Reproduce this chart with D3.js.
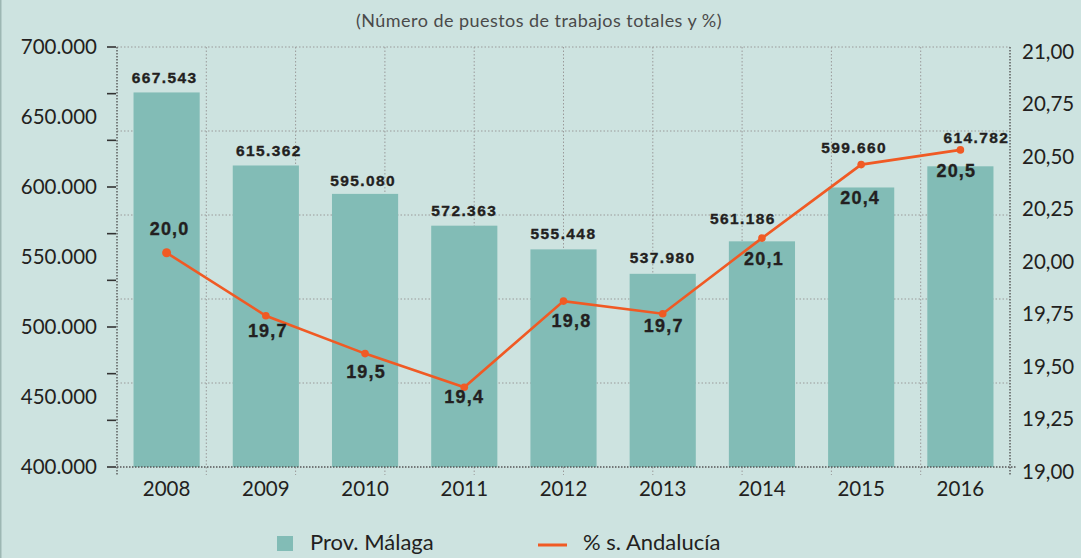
<!DOCTYPE html>
<html>
<head>
<meta charset="utf-8">
<script src="https://cdn.jsdelivr.net/npm/d3@7"></script>
<style>
  html, body { margin: 0; padding: 0; background: #cde3e0; }
  svg { display: block; }
</style>
</head>
<body>
<div id="main"></div>
<script>
// datos
const years = ["2008", "2009", "2010", "2011", "2012", "2013", "2014", "2015", "2016"];
const empleoMalaga = [667543, 615362, 595080, 572363, 555448, 537980, 561186, 599660, 614782];
const pctAndalucia = [20.02, 19.72, 19.54, 19.38, 19.79, 19.73, 20.09, 20.44, 20.51];
const leftTicks = [400000, 450000, 500000, 550000, 600000, 650000, 700000];
const rightTicks = [19, 19.25, 19.5, 19.75, 20, 20.25, 20.5, 20.75, 21];

// ajustes de posición de etiquetas (px)
const barLabelDx = [-2, 3, -2, 0, 0, 0, -19, -7, 16];
const barLabelDy = [-15, -15, -13, -15, -16, -16, -23, -40, -29];
const pctLabelDx = [3, 2, 1, 0, 8, 1, 2, -1, -4];
const pctLabelDy = [-24, 15, 18, 9, 20, 12, 21, 33, 21];

const W = 1081, H = 558;
const plot = { left: 117, right: 1010, top: 47, bottom: 467 };
const BAR = "#82bcb6", LINE = "#f05a24", TXT = "#231f20";
const FONT = "Lato, 'Open Sans', sans-serif";
const BOLD = "'Liberation Sans', Arial, sans-serif";

const es = d3.formatLocale({ decimal: ",", thousands: ".", grouping: [3], currency: ["", "€"] });
const fmtMiles = es.format(",.0f");
const fmt2 = es.format(".2f");
const fmt1 = es.format(".1f");

const svg = d3.select("#main").append("svg")
    .attr("width", W)
    .attr("height", H);

svg.append("rect").attr("width", W).attr("height", H).attr("fill", "#cde3e0");
svg.append("line").attr("x1", 0.5).attr("x2", 0.5).attr("y1", 0).attr("y2", H)
    .attr("stroke", "#9db7b3").attr("stroke-width", 2);

const x = d3.scaleBand()
    .domain(years)
    .range([plot.left, plot.right])
    .paddingInner(1 / 3)
    .paddingOuter(1 / 6);

const yL = d3.scaleLinear().domain([400000, 700000]).range([plot.bottom, plot.top]);
const yR = d3.scaleLinear().domain([19, 21]).range([plot.bottom, plot.top]);

// título
svg.append("text")
    .attr("x", 539)
    .attr("y", 27)
    .attr("text-anchor", "middle")
    .style("font-family", FONT)
    .style("font-size", "18px")
    .style("letter-spacing", "0.45px")
    .style("fill", "#4a4a4a")
    .text("(Número de puestos de trabajos totales y %)");

// rejilla punteada
const gridX = d3.scaleLinear().domain([0, 10]).range([plot.left, plot.right]);
const gridY = d3.scaleLinear().domain([0, 5]).range([plot.bottom, plot.top]);
const grid = svg.append("g")
    .attr("stroke", "#9a9a9a")
    .attr("stroke-width", 1)
    .attr("stroke-dasharray", "1.5,2");
grid.selectAll(".h")
    .data(d3.range(1, 6))
    .join("line")
    .attr("x1", plot.left).attr("x2", plot.right)
    .attr("y1", d => gridY(d))
    .attr("y2", d => gridY(d));
grid.selectAll(".v")
    .data(d3.range(1, 10))
    .join("line")
    .attr("x1", d => gridX(d)).attr("x2", d => gridX(d))
    .attr("y1", plot.top).attr("y2", plot.bottom + 8);

// barras
svg.selectAll(".bar")
    .data(years)
    .join("rect")
    .attr("class", "bar")
    .attr("x", d => x(d))
    .attr("y", (d, i) => yL(empleoMalaga[i]))
    .attr("width", x.bandwidth())
    .attr("height", (d, i) => plot.bottom - yL(empleoMalaga[i]))
    .attr("fill", BAR);

// ejes punteados
const axes = svg.append("g")
    .attr("stroke", "#555")
    .attr("stroke-width", 1.4)
    .attr("stroke-dasharray", "1.5,1.5");
axes.append("line").attr("x1", plot.left).attr("x2", plot.left).attr("y1", plot.top).attr("y2", plot.bottom + 9);
axes.append("line").attr("x1", plot.right).attr("x2", plot.right).attr("y1", plot.top).attr("y2", plot.bottom + 9);
axes.append("line").attr("x1", plot.left).attr("x2", plot.right + 7).attr("y1", plot.bottom).attr("y2", plot.bottom);

// eje izquierdo
const gL = svg.append("g")
    .attr("transform", `translate(${plot.left},0)`)
    .call(d3.axisLeft(yL)
        .tickValues(leftTicks)
        .tickFormat(d => fmtMiles(d))
        .tickSize(0)
        .tickPadding(20));
gL.select(".domain").remove();
gL.selectAll("text")
    .style("font-family", FONT)
    .style("font-size", "20.5px")
    .style("fill", TXT);

// marcas del eje izquierdo
const markScale = d3.scaleLinear().domain([0, 9]).range([plot.bottom, plot.top]);
svg.append("g").selectAll("line")
    .data(d3.range(0, 10))
    .join("line")
    .attr("x1", plot.left - 10).attr("x2", plot.left - 1)
    .attr("y1", d => markScale(d)).attr("y2", d => markScale(d))
    .attr("stroke", "#333")
    .attr("stroke-width", 1.6);

// eje derecho
const gR = svg.append("g")
    .attr("transform", `translate(${plot.right},0)`)
    .call(d3.axisRight(yR)
        .tickValues(rightTicks)
        .tickFormat(d => fmt2(d))
        .tickSize(0)
        .tickPadding(12));
gR.select(".domain").remove();
gR.selectAll("text")
    .attr("dy", "0.55em")
    .style("font-family", FONT)
    .style("font-size", "20.5px")
    .style("fill", TXT);

// eje X
const gX = svg.append("g")
    .attr("transform", `translate(0,${plot.bottom})`)
    .call(d3.axisBottom(x).tickSize(0).tickPadding(14));
gX.select(".domain").remove();
gX.selectAll("text")
    .style("font-family", FONT)
    .style("font-size", "20.5px")
    .style("fill", TXT);

// etiquetas de barras
svg.selectAll(".barLabel")
    .data(years)
    .join("text")
    .attr("class", "barLabel")
    .attr("x", (d, i) => x(d) + x.bandwidth() / 2 + barLabelDx[i])
    .attr("y", (d, i) => yL(empleoMalaga[i]) + barLabelDy[i])
    .attr("dy", "0.35em")
    .attr("text-anchor", "middle")
    .style("font-family", BOLD)
    .style("font-weight", "bold")
    .style("font-size", "15.5px")
    .style("letter-spacing", "1.4px")
    .style("fill", TXT)
    .style("stroke", TXT)
    .style("stroke-width", "0.35px")
    .text((d, i) => fmtMiles(empleoMalaga[i]));

// línea % s. Andalucía
const line = d3.line()
    .x((d, i) => x(years[i]) + x.bandwidth() / 2)
    .y(d => yR(d));
svg.append("path")
    .datum(pctAndalucia)
    .attr("d", line)
    .attr("fill", "none")
    .attr("stroke", LINE)
    .attr("stroke-width", 2.6);
svg.selectAll(".dot")
    .data(pctAndalucia)
    .join("circle")
    .attr("cx", (d, i) => x(years[i]) + x.bandwidth() / 2)
    .attr("cy", d => yR(d))
    .attr("r", (d, i) => i === 0 ? 4.5 : 3.8)
    .attr("fill", LINE);

svg.selectAll(".pctLabel")
    .data(pctAndalucia)
    .join("text")
    .attr("class", "pctLabel")
    .attr("x", (d, i) => x(years[i]) + x.bandwidth() / 2 + pctLabelDx[i])
    .attr("y", (d, i) => yR(d) + pctLabelDy[i])
    .attr("dy", "0.35em")
    .attr("text-anchor", "middle")
    .style("font-family", BOLD)
    .style("font-weight", "bold")
    .style("font-size", "18px")
    .style("letter-spacing", "1.2px")
    .style("fill", TXT)
    .style("stroke", TXT)
    .style("stroke-width", "0.35px")
    .text(d => fmt1(d));

// leyenda
const leg = svg.append("g");
leg.append("rect").attr("x", 277).attr("y", 536).attr("width", 16).attr("height", 15).attr("fill", BAR);
leg.append("text").attr("x", 310).attr("y", 550)
    .style("font-family", FONT).style("font-size", "22px").style("fill", TXT)
    .text("Prov. Málaga");
leg.append("line").attr("x1", 538).attr("x2", 567).attr("y1", 545).attr("y2", 545)
    .attr("stroke", LINE).attr("stroke-width", 3);
leg.append("text").attr("x", 583).attr("y", 550)
    .style("font-family", FONT).style("font-size", "22px").style("fill", TXT)
    .text("% s. Andalucía");
</script>
</body>
</html>
